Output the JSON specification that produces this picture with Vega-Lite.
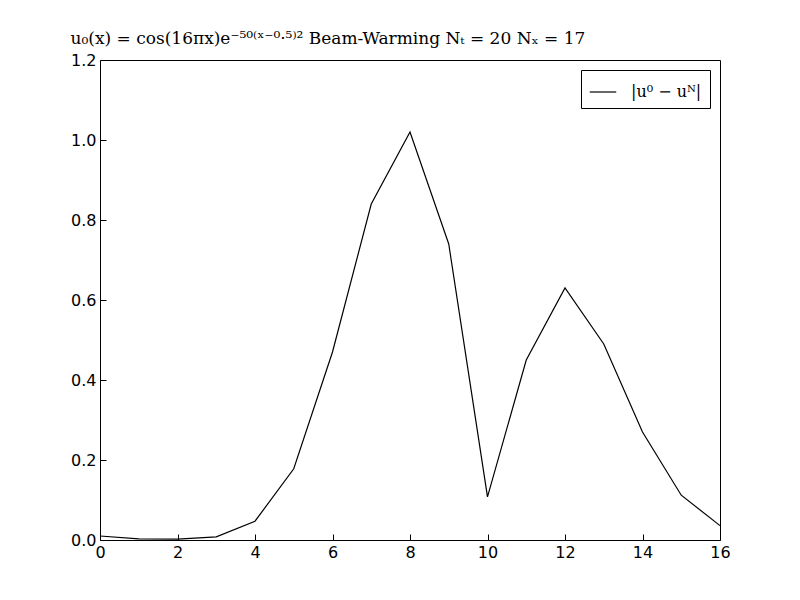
{
  "$schema": "https://vega.github.io/schema/vega-lite/v6.json",
  "autosize": "none",
  "width": 620,
  "height": 480,
  "padding": {"left": 100, "top": 60, "right": 80, "bottom": 60},
  "background": "white",
  "title": {
    "text": "u₀(x) = cos(16πx)e⁻⁵⁰⁽ˣ⁻⁰·⁵⁾²        Beam-Warming      Nₜ = 20      Nₓ = 17",
    "anchor": "start",
    "font": "DejaVu Serif",
    "fontSize": 17,
    "fontWeight": "normal",
    "offset": 4
  },
  "data": {
    "values": [
      {"n": 0, "err": 0.010, "series": "|u⁰ − uᴺ|"},
      {"n": 1, "err": 0.003, "series": "|u⁰ − uᴺ|"},
      {"n": 2, "err": 0.002, "series": "|u⁰ − uᴺ|"},
      {"n": 3, "err": 0.008, "series": "|u⁰ − uᴺ|"},
      {"n": 4, "err": 0.047, "series": "|u⁰ − uᴺ|"},
      {"n": 5, "err": 0.178, "series": "|u⁰ − uᴺ|"},
      {"n": 6, "err": 0.470, "series": "|u⁰ − uᴺ|"},
      {"n": 7, "err": 0.840, "series": "|u⁰ − uᴺ|"},
      {"n": 8, "err": 1.020, "series": "|u⁰ − uᴺ|"},
      {"n": 9, "err": 0.740, "series": "|u⁰ − uᴺ|"},
      {"n": 10, "err": 0.108, "series": "|u⁰ − uᴺ|"},
      {"n": 11, "err": 0.450, "series": "|u⁰ − uᴺ|"},
      {"n": 12, "err": 0.630, "series": "|u⁰ − uᴺ|"},
      {"n": 13, "err": 0.490, "series": "|u⁰ − uᴺ|"},
      {"n": 14, "err": 0.270, "series": "|u⁰ − uᴺ|"},
      {"n": 15, "err": 0.112, "series": "|u⁰ − uᴺ|"},
      {"n": 16, "err": 0.036, "series": "|u⁰ − uᴺ|"}
    ]
  },
  "mark": {"type": "line", "strokeWidth": 1.2},
  "encoding": {
    "x": {
      "field": "n", "type": "quantitative",
      "scale": {"domain": [0, 16], "nice": false},
      "axis": {"title": null, "values": [0, 2, 4, 6, 8, 10, 12, 14, 16], "grid": false, "tickSize": -6, "labelPadding": 10, "labelFlush": false, "labelOverlap": false, "domain": false}
    },
    "y": {
      "field": "err", "type": "quantitative",
      "scale": {"domain": [0, 1.2], "nice": false},
      "axis": {"title": null, "values": [0, 0.2, 0.4, 0.6, 0.8, 1.0, 1.2], "format": ".1f", "grid": false, "tickSize": -6, "labelPadding": 10, "labelFlush": false, "domain": false}
    },
    "color": {
      "field": "series", "type": "nominal",
      "scale": {"range": ["black"]},
      "legend": {
        "title": null, "orient": "top-right", "offset": 10,
        "symbolType": "stroke", "symbolSize": 700, "symbolStrokeWidth": 1.2,
        "strokeColor": "black", "fillColor": "white", "padding": 8,
        "labelFont": "DejaVu Serif", "labelFontSize": 16, "labelOffset": 14
      }
    }
  },
  "config": {
    "view": {"stroke": "black", "strokeWidth": 1},
    "axis": {"labelFont": "DejaVu Sans", "labelFontSize": 16, "labelColor": "black", "tickColor": "black"}
  }
}
